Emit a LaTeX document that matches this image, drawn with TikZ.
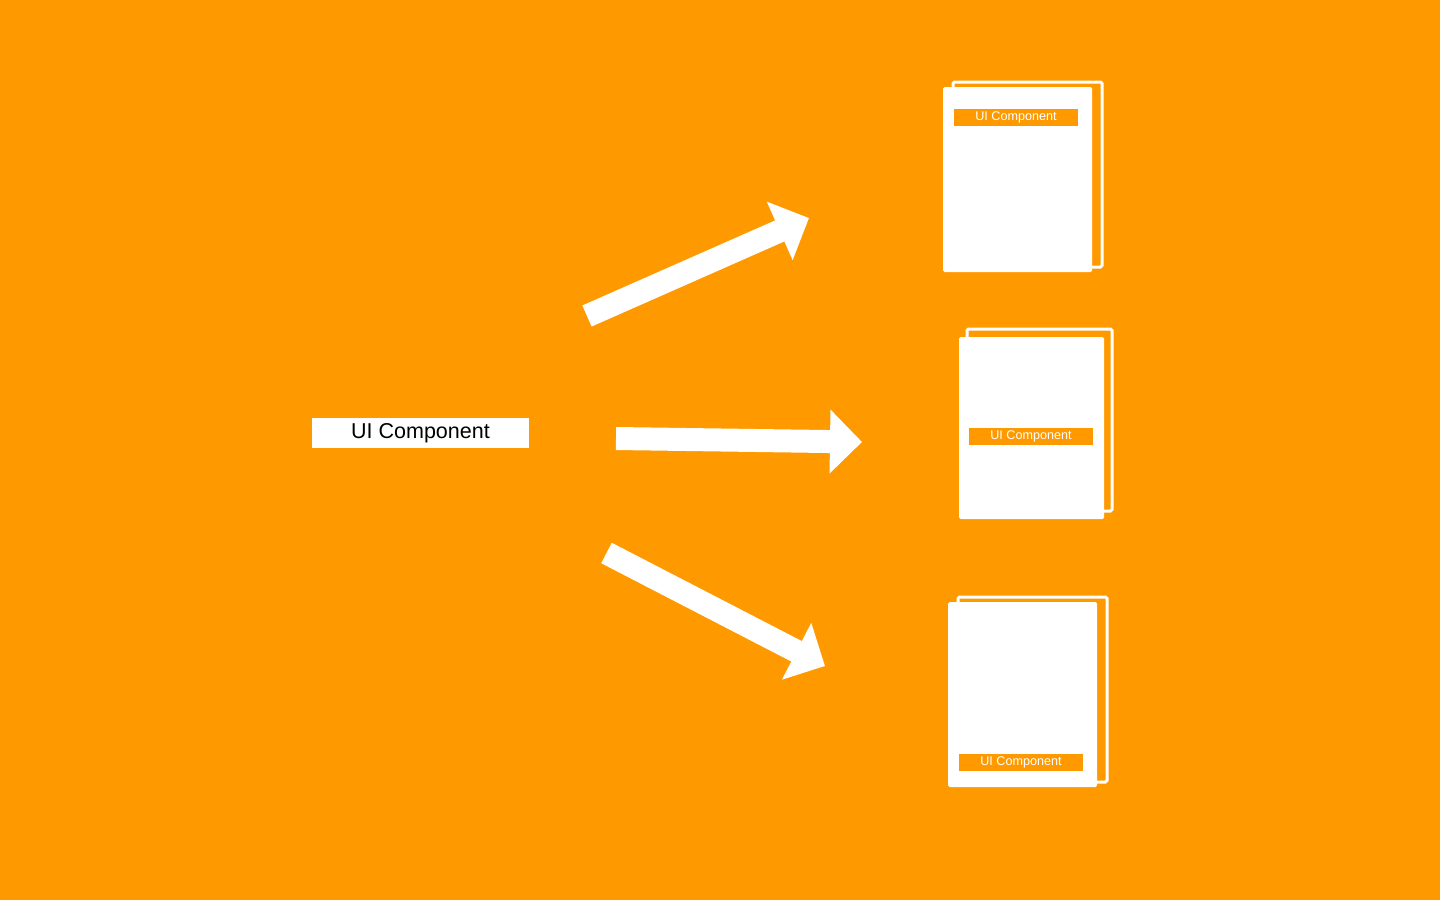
\documentclass[tikz,border=0pt]{standalone}
\usepackage{xcolor}
\usepackage{tikz}
\usepackage{fontspec}
\setmainfont{Liberation Sans}
\usetikzlibrary{positioning, arrows.meta, shadows}
\definecolor{uiorange}{RGB}{255,153,0}

\tikzset{
    backsheet/.style={shadow xshift=10pt, shadow yshift=5pt, fill=uiorange, draw=white, line width=3pt},
    sheet/.style={fill=white, minimum width=149pt, minimum height=185pt, inner sep=0pt,
        rounded corners=1.5pt, copy shadow={backsheet, #1}},
    sheet/.default={},
    tag/.style={fill=uiorange, text=white, font=\fontsize{12.6}{14}\selectfont,
        minimum width=124pt, minimum height=17pt, inner sep=0pt},
    comp/.style={fill=white, text=black, font=\fontsize{21.5}{24}\selectfont,
        minimum width=217pt, minimum height=30pt, inner sep=0pt},
    fatarrow/.style={white, line width=23pt, -{Triangle[length=32pt, width=62pt]}}
}

\begin{document}
\begin{tikzpicture}[x=1pt, y=-1pt]
    % Background
    \fill[uiorange] (0,0) rectangle (1440,900);

    % Source component
    \node[comp] (src) at (420.5,433) {UI Component};

    % Pages
    \node[sheet] (p1) at (1017.5,179.5) {};
    \node[tag] (t1) at (1016,117.5) {UI Component};

    \node[sheet={shadow xshift=8pt, shadow yshift=8pt}, minimum width=145pt, minimum height=182pt]
        (p2) at (1031.5,428) {};
    \node[tag] (t2) at (1031,436.5) {UI Component};

    \node[sheet] (p3) at (1022.5,694.5) {};
    \node[tag] (t3) at (1021,762) {UI Component};

    % Arrows
    \coordinate (a1s) at (587,316);
    \coordinate (a1e) at (809,218);
    \coordinate (a2s) at (616,438.5);
    \coordinate (a2e) at (862,442);
    \coordinate (a3s) at (606.5,553);
    \coordinate (a3e) at (825,666);
    \draw[fatarrow] (a1s) -- (a1e);
    \draw[fatarrow] (a2s) -- (a2e);
    \draw[fatarrow] (a3s) -- (a3e);
\end{tikzpicture}
\end{document}
